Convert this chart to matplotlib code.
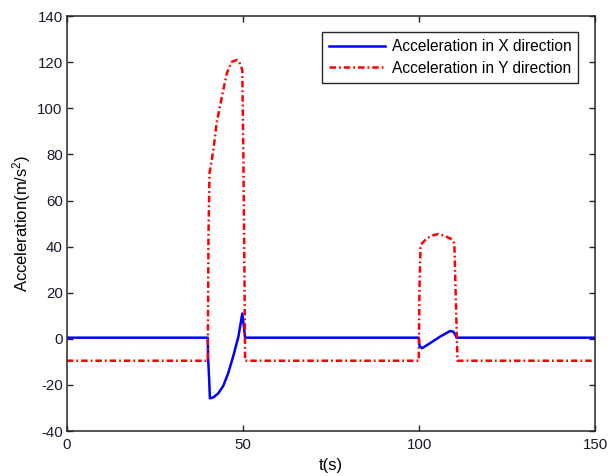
import numpy as np
import matplotlib
matplotlib.use('Agg')
import matplotlib.pyplot as plt

plt.rcParams['font.family'] = ['Liberation Sans', 'DejaVu Sans']
plt.rcParams['mathtext.default'] = 'regular'
plt.rcParams['axes.unicode_minus'] = False

# X方向加速度
t_x = [0, 40.0, 40.1, 40.4, 40.6, 41.6, 43.0, 44.4, 45.8, 47.2, 48.7, 49.8, 50.2, 50.6,
       99.9, 100.1, 100.8, 103.1, 106.0, 108.8, 109.7, 110.4, 110.6, 150]
acc_x = [0.5, 0.5, -8.5, -17.8, -25.8, -25.4, -23.6, -20.4, -14.9, -7.7, 1.0, 11.0, 6, 0.5,
         0.5, -3.0, -4.1, -1.9, 1.0, 3.4, 3.1, 1.5, 0.5, 0.5]

# Y方向加速度
t_y = [0, 40.0, 40.2, 40.5, 41.6, 42.5, 44.0, 45.4, 46.8, 48.2, 49.1, 49.8, 50.1, 50.4, 50.6,
       99.9, 100.1, 100.4, 100.8, 102.2, 104.1, 105.5, 107.4, 109.3, 110.0, 110.3, 110.9, 150]
acc_y = [-9.5, -9.5, 45, 72, 82, 93.5, 105, 115.2, 120.2, 121, 119.5, 116.6, 80, 30, -9.5,
         -9.5, 22, 40, 41.4, 43.6, 45.0, 45.5, 44.6, 43.2, 41.4, 24, -9.5, -9.5]

fig = plt.figure(figsize=(6.08, 4.76), dpi=100)
ax = fig.add_axes([0.110, 0.0945, 0.869, 0.8715])

ax.plot(t_x, acc_x, color='#0000ff', linewidth=1.8, label='Acceleration in X direction')
ax.plot(t_y, acc_y, color='#ff0000', linewidth=1.8, linestyle=(0, (2.6, 1.2, 0.7, 1.2)),
        label='Acceleration in Y direction')

ax.set_xlim(0, 150)
ax.set_ylim(-40, 140)
ax.set_xticks([0, 50, 100, 150])
ax.set_yticks(np.arange(-40, 141, 20))
ax.tick_params(direction='in', length=4, width=1, top=True, right=True,
               labelsize=10.8, colors='#262626', labelcolor='#1a1a2e', pad=3)
ax.tick_params(axis='x', pad=5)
for sp in ax.spines.values():
    sp.set_linewidth(1.1)
    sp.set_color('#262626')

ax.set_xlabel('t(s)', fontsize=12, labelpad=4)
ax.set_ylabel('Acceleration(m/s$^{2}$)', fontsize=12, labelpad=3)

leg = ax.legend(loc='upper right', bbox_to_anchor=(0.968, 0.961), borderaxespad=0,
                fontsize=11.2, handlelength=3.6, handletextpad=0.4, fancybox=False,
                framealpha=1, edgecolor='#262626', borderpad=0.45, labelspacing=0.4)
leg.get_frame().set_linewidth(1.0)

fig.savefig('out.png', dpi=100)
